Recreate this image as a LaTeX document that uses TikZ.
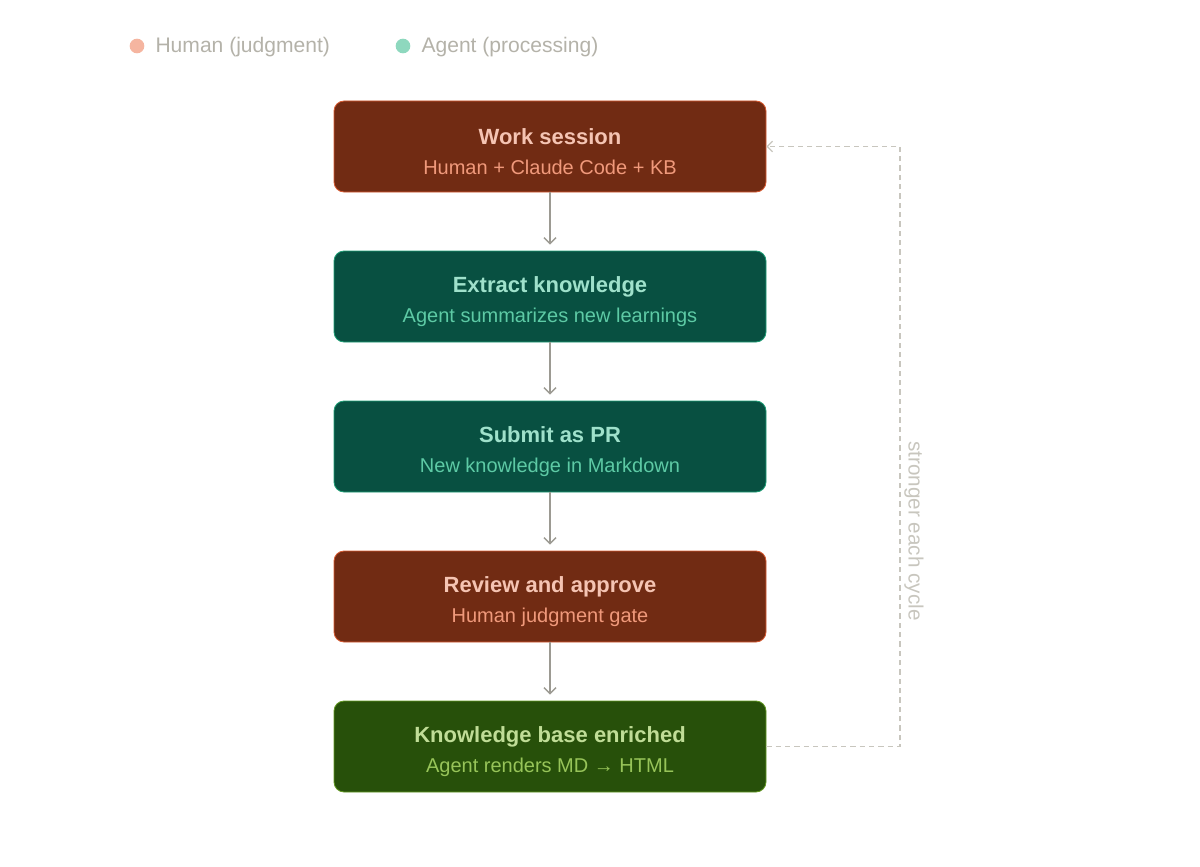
\documentclass[tikz,border=0pt]{standalone}
\usepackage{fontspec}
\setmainfont{Liberation Sans}
\usetikzlibrary{arrows.meta,positioning}

\definecolor{humanfill}{HTML}{712B13}
\definecolor{humanedge}{HTML}{D85A30}
\definecolor{humantitle}{HTML}{F5C4B3}
\definecolor{humansub}{HTML}{F0997B}
\definecolor{agentfill}{HTML}{085041}
\definecolor{agentedge}{HTML}{1D9E75}
\definecolor{agenttitle}{HTML}{9FE1CB}
\definecolor{agentsub}{HTML}{5DCAA5}
\definecolor{kbfill}{HTML}{27500A}
\definecolor{kbedge}{HTML}{639922}
\definecolor{kbtitle}{HTML}{C0DD97}
\definecolor{kbsub}{HTML}{97C459}
\definecolor{flowgray}{HTML}{9C9A92}
\definecolor{loopgray}{HTML}{C8C6BE}
\definecolor{legendgray}{HTML}{B4B2A9}
\definecolor{humandot}{HTML}{F5B5A0}
\definecolor{agentdot}{HTML}{8ED8BE}

% title line and subtitle line of a step box
\newcommand{\boxlines}[3]{\rule{0pt}{20pt}{\fontsize{16.5}{22.5}\selectfont\bfseries #1}\\{\color{#3}#2}}

\tikzset{
  stepbase/.style={rounded corners=7.5pt,line width=0.6pt,minimum width=324pt,minimum height=68.25pt,align=center,inner sep=2pt,font=\fontsize{15}{22.5}\selectfont},
  humanbox/.style={stepbase,draw=humanedge,fill=humanfill,text=humantitle},
  agentbox/.style={stepbase,draw=agentedge,fill=agentfill,text=agenttitle},
  kbbox/.style={stepbase,draw=kbedge,fill=kbfill,text=kbtitle},
  flowarrow/.style={draw=flowgray,line width=1.1pt,-{Straight Barb[length=4.5pt,width=9pt,line width=1.1pt]}},
  loopline/.style={draw=loopgray,line width=0.9pt,dash pattern=on 4pt off 3pt,-{Straight Barb[length=4pt,width=8pt,line width=0.9pt]}},
  legenddot/.style={circle,inner sep=0pt,minimum size=11pt},
  legendtext/.style={inner sep=0pt,text=legendgray,font=\fontsize{15.8}{18}\selectfont}
}

\begin{document}
\begin{tikzpicture}[x=0.75pt,y=-0.75pt]
\useasboundingbox (0,0) rectangle (1200,867);

% legend
\node[legenddot,fill=humandot] (hdot) at (137,46) {};
\node[legendtext,right=8pt of hdot,yshift=-1pt] (hlegend) {Human (judgment)};
\node[legenddot,fill=agentdot] (adot) at (403,46) {};
\node[legendtext,right=8pt of adot,yshift=-1pt] (alegend) {Agent (processing)};

% steps
\node[humanbox] (ws) at (550,146.5) {\boxlines{Work session}{Human + Claude Code + KB}{humansub}};
\node[agentbox] (ek) at (550,296.5) {\boxlines{Extract knowledge}{Agent summarizes new learnings}{agentsub}};
\node[agentbox] (pr) at (550,446.5) {\boxlines{Submit as PR}{New knowledge in Markdown}{agentsub}};
\node[humanbox] (ra) at (550,596.5) {\boxlines{Review and approve}{Human judgment gate}{humansub}};
\node[kbbox] (kb) at (550,746.5) {\boxlines{Knowledge base enriched}{Agent renders MD → HTML}{kbsub}};

\draw[flowarrow] (ws.south) -- ([yshift=4.5pt]ek.north);
\draw[flowarrow] (ek.south) -- ([yshift=4.5pt]pr.north);
\draw[flowarrow] (pr.south) -- ([yshift=4.5pt]ra.north);
\draw[flowarrow] (ra.south) -- ([yshift=4.5pt]kb.north);

% feedback loop
\coordinate (looptop) at (900,146.5);
\draw[loopline] (kb.east) -| (looptop) -- (ws.east);
\node[rotate=-90,text=loopgray,font=\fontsize{15.5}{18}\selectfont] (looplabel) at (914,531) {stronger each cycle};
\end{tikzpicture}
\end{document}
